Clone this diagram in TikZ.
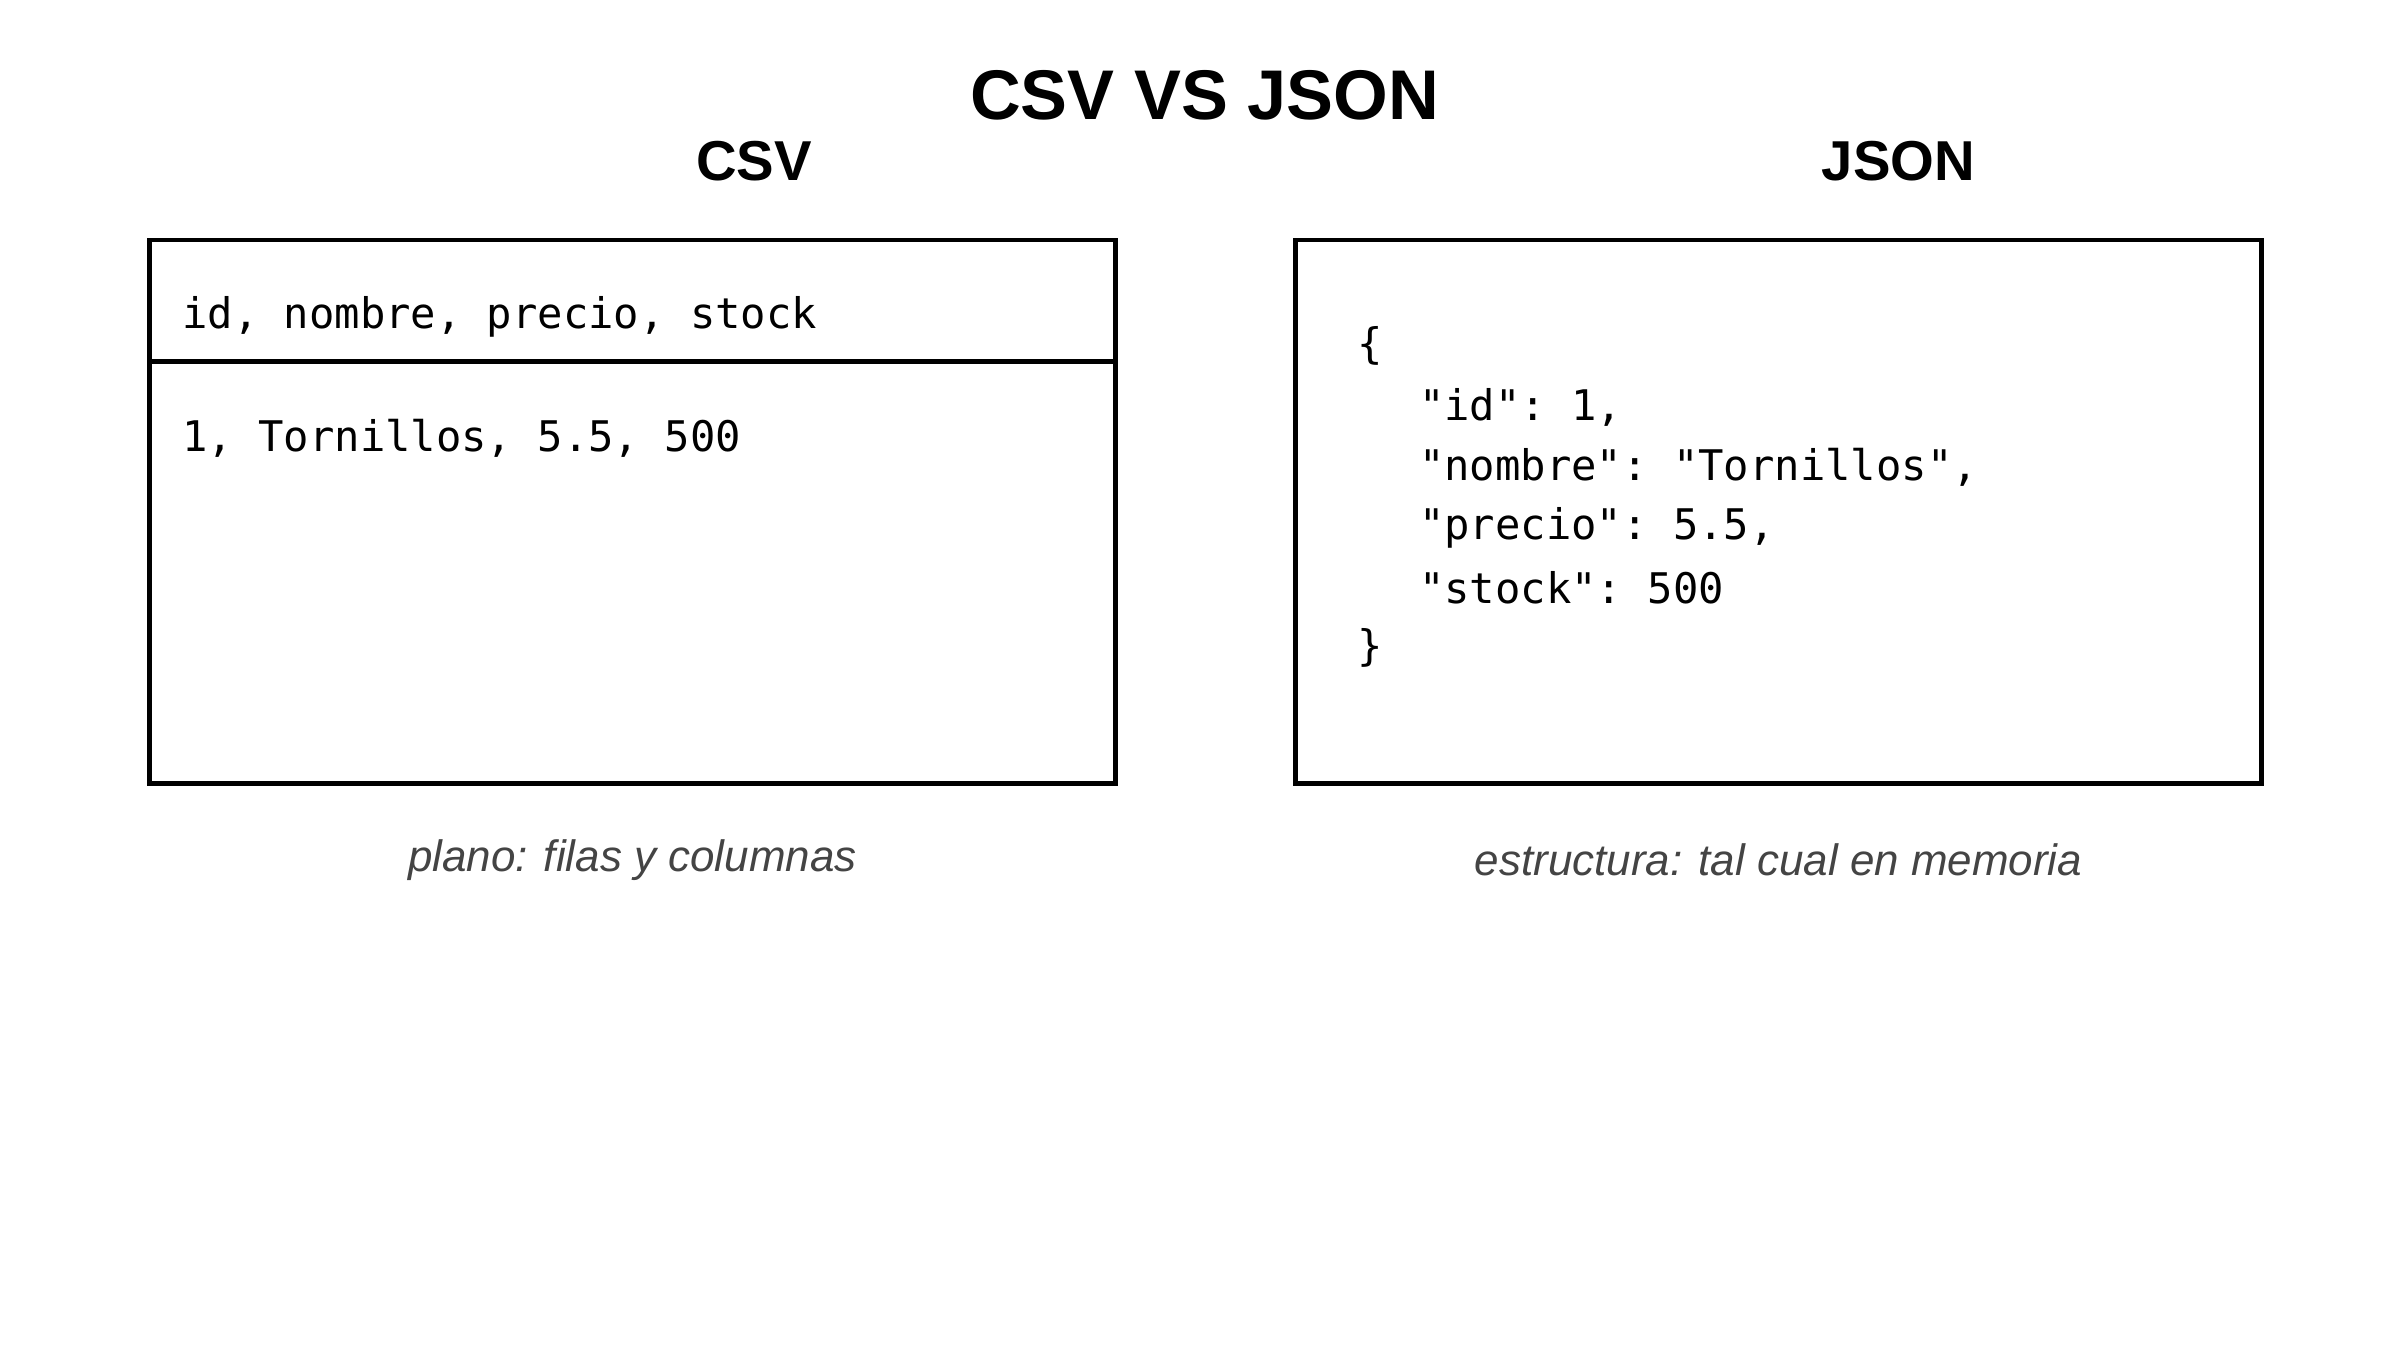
\documentclass[tikz,border=0pt]{standalone}
\usepackage{fontspec}
\setmainfont{Liberation Sans}
\setmonofont{DejaVu Sans Mono}
\definecolor{capgray}{RGB}{68,68,68}
\tikzset{
  box/.style={draw, line width=1.4pt},
  head/.style={font=\bfseries\fontsize{16}{19}\selectfont},
  code/.style={anchor=west, inner sep=0pt, font=\ttfamily\fontsize{12}{14}\selectfont},
  caption/.style={font=\itshape\fontsize{12.5}{15}\selectfont, text=capgray}
}
\begin{document}
\begin{tikzpicture}[x=0.01538cm, y=-0.01538cm]
  \useasboundingbox (0,0) rectangle (1560,878);
  % titles
  \node[font=\bfseries\fontsize{20}{24}\selectfont] (title) at (783,62) {CSV VS JSON};
  \node[head] (csvhead) at (490,105) {CSV};
  \node[head] (jsonhead) at (1234,105) {JSON};
  % CSV box
  \draw[box] (97,156) rectangle (725,509);
  \draw[box] (97,235) -- (725,235);
  \node[code] (csvcols) at (118,206) {id, nombre, precio, stock};
  \node[code] (csvrow) at (118,285) {1, Tornillos, 5.5, 500};
  \node[caption] (csvcap) at (411,559) {plano: filas y columnas};
  % JSON box
  \draw[box] (842,156) rectangle (1470,509);
  \node[code] (j1) at (882,225) {\{};
  \node[code] (j2) at (922,265) {"id": 1,};
  \node[code] (j3) at (922,304) {"nombre": "Tornillos",};
  \node[code] (j4) at (922,343) {"precio": 5.5,};
  \node[code] (j5) at (922,382) {"stock": 500};
  \node[code] (j6) at (882,421) {\}};
  \node[caption] (jsoncap) at (1156,559) {estructura: tal cual en memoria};
\end{tikzpicture}
\end{document}
